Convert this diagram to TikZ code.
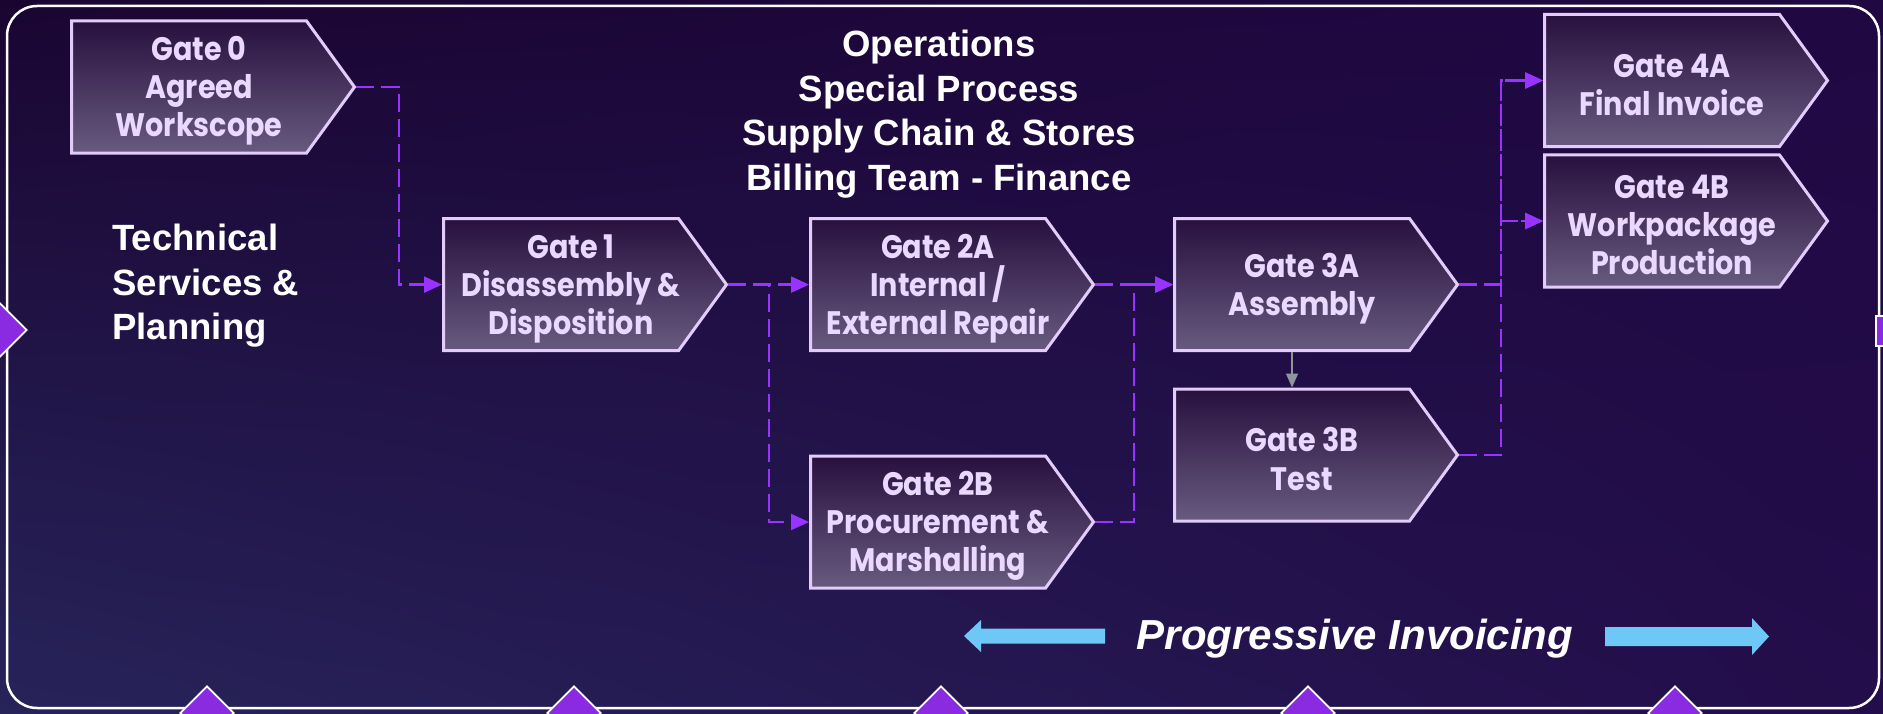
\documentclass[tikz,border=0pt]{standalone}
\usepackage{fontspec}
\setmainfont{Liberation Sans}
\newfontfamily\gatefamily{Poppins}[FakeStretch=0.88]
\usetikzlibrary{positioning,calc,shapes.symbols,shapes.geometric,arrows.meta,shadings}

\definecolor{bgA}{HTML}{1A0532}
\definecolor{bgB}{HTML}{200843}
\definecolor{bgC}{HTML}{27245A}
\definecolor{bgD}{HTML}{230D4A}
\definecolor{gatetop}{HTML}{28103F}
\definecolor{gatebottom}{HTML}{685A7F}
\definecolor{gateline}{HTML}{E3CCFA}
\definecolor{gateink}{HTML}{EBD8FF}
\definecolor{linkpurple}{HTML}{9933FF}
\definecolor{dropgrey}{HTML}{8C979B}
\definecolor{markerpurple}{HTML}{8A2BE2}
\definecolor{invblue}{HTML}{6EC8F5}

\tikzset{gate/.style={signal,signal to=east,signal pointer angle=108,draw=gateline,line width=0.6mm,top color=gatetop,bottom color=gatebottom,minimum width=56.6mm,minimum height=26.4mm,inner sep=0pt}}
\tikzset{gatetext/.style={align=center,text=gateink,inner sep=0pt,font=\gatefamily\bfseries\fontsize{18.5}{21.7}\selectfont}}
\tikzset{teamtext/.style={text=white,inner sep=0pt,font=\bfseries\fontsize{20.8}{25.3}\selectfont}}
\tikzset{link/.style={draw=linkpurple,line width=0.45mm,dash pattern=on 3.6mm off 1.4mm,-{Triangle[length=3.6mm,width=3.2mm]}}}
\tikzset{drop/.style={draw=dropgrey,line width=0.3mm,-{Triangle[length=2.8mm,width=2.4mm]}}}
\tikzset{marker/.style={diamond,draw=white,line width=0.35mm,fill=markerpurple,minimum size=10.8mm,inner sep=0pt}}

\begin{document}
\begin{tikzpicture}[x=0.2mm,y=-0.2mm]

	%% Background and frame
	\clip (0,0) rectangle (1883,714);
	\shade[upper left=bgA,upper right=bgB,lower left=bgC,lower right=bgD] (0,0) rectangle (1883,714);
	\draw[white,line width=0.5mm,rounded corners=6mm] (7,6) rectangle (1879,708);
	%%

	\node[marker] (m0) at (0,330) {};
	\node[marker] (m1) at (207,713) {};
	\node[marker] (m2) at (574,713) {};
	\node[marker] (m3) at (941,713) {};
	\node[marker] (m4) at (1308,713) {};
	\node[marker] (m5) at (1675,713) {};
	\draw[white,line width=0.35mm,fill=markerpurple] (1876,316) rectangle (1895,346);

	%% Gates
	\node[gate,anchor=west] (g0) at (70,87) {};
	\node[gate,anchor=west] (g1) at (442,284.6) {};
	\node[gate,anchor=west] (g2a) at (809,284.6) {};
	\node[gate,anchor=west] (g2b) at (809,522) {};
	\node[gate,anchor=west] (g3a) at (1173,284.6) {};
	\node[gate,anchor=west] (g3b) at (1173,455) {};
	\node[gate,anchor=west] (g4a) at (1543,80.5) {};
	\node[gate,anchor=west] (g4b) at (1543,221) {};

	\node[gatetext] (t0) at ($(g0.west)+(129,4)$) {Gate 0\\Agreed\\Workscope};
	\node[gatetext] (t1) at ($(g1.west)+(129,4)$) {Gate 1\\Disassembly \&\\Disposition};
	\node[gatetext] (t2a) at ($(g2a.west)+(129,4)$) {Gate 2A\\Internal /\\External Repair};
	\node[gatetext] (t2b) at ($(g2b.west)+(129,4)$) {Gate 2B\\Procurement \&\\Marshalling};
	\node[gatetext] (t3a) at ($(g3a.west)+(129,4)$) {Gate 3A\\Assembly};
	\node[gatetext] (t3b) at ($(g3b.west)+(129,4)$) {Gate 3B\\Test};
	\node[gatetext] (t4a) at ($(g4a.west)+(129,4)$) {Gate 4A\\Final Invoice};
	\node[gatetext] (t4b) at ($(g4b.west)+(129,4)$) {Gate 4B\\Workpackage\\Production};

	%% Teams
	\node[teamtext,align=center] (ops) at (939,114) {Operations\\Special Process\\Supply Chain \& Stores\\Billing Team - Finance};
	\node[teamtext,align=left,anchor=west] (tech) at (112,286) {Technical\\Services \&\\Planning};

	%% Links
	\draw[link] (g0.east) -| ($(g0.east)!.5!(g1.west)$) |- (g1.west);
	\draw[link] (g1.east) -- (g2a.west);
	\draw[link] (g1.east) -| ($(g1.east)!.5!(g2b.west)$) |- (g2b.west);
	\draw[link] (g2a.east) -- (g3a.west);
	\draw[link] (g2b.east) -| ($(g2b.east)!.5!(g3a.west)$) |- (g3a.west);
	\draw[link] (g3a.east) -| ($(g3a.east)!.5!(g4a.west)$) |- (g4a.west);
	\draw[link] (g3a.east) -| ($(g3a.east)!.5!(g4b.west)$) |- (g4b.west);
	\draw[link] (g3b.east) -| ($(g3b.east)!.5!(g4a.west)$) |- (g4a.west);
	\draw[link] (g3b.east) -| ($(g3b.east)!.5!(g4b.west)$) |- (g4b.west);
	\draw[drop] (g3a.south) -- (g3b.north);

	%% Invoicing
	\node[text=white,inner sep=0pt,anchor=base,font=\bfseries\itshape\fontsize{23.9}{28}\selectfont] (inv) at (1355,649) {Progressive Invoicing};
	\fill[invblue] (964,636) -- (981,620) -- (981,628.5) -- (1105,628.5) -- (1105,643.5) -- (981,643.5) -- (981,652) -- cycle;
	\fill[invblue] (1769,636.5) -- (1752,618) -- (1752,627) -- (1605,627) -- (1605,646) -- (1752,646) -- (1752,655) -- cycle;

\end{tikzpicture}
\end{document}
